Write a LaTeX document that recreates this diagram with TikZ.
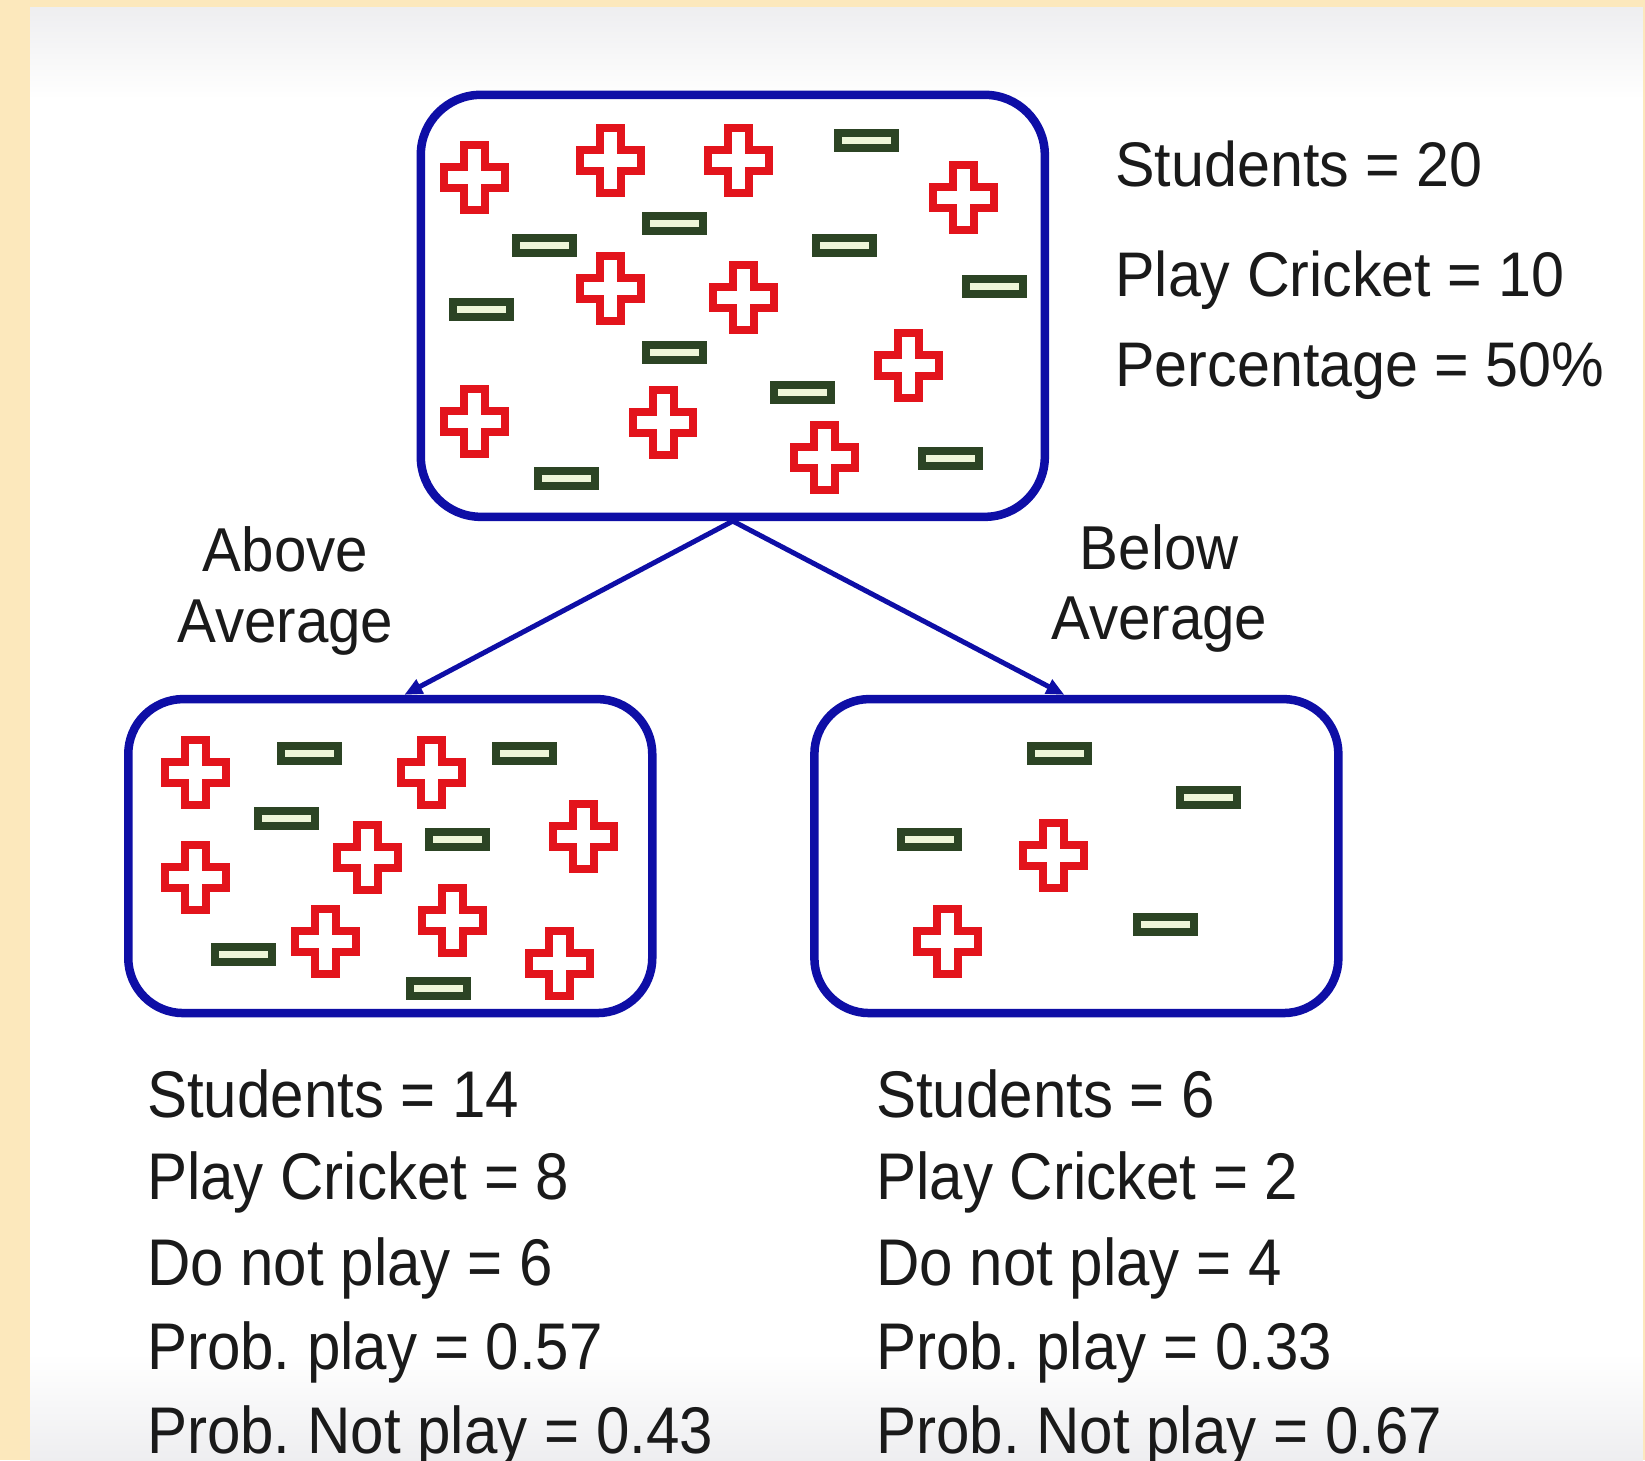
\documentclass[tikz,border=0pt]{standalone}
\usepackage{fontspec}
\setmainfont{Liberation Sans}
\newfontfamily\txtfont[FakeStretch=0.94]{Liberation Sans}
\newfontfamily\botfont[FakeStretch=0.91]{Liberation Sans}
\usetikzlibrary{arrows.meta}
\definecolor{beige}{HTML}{FCE8BC}
\definecolor{boxblue}{HTML}{0E0EA6}
\definecolor{plusred}{HTML}{E3141C}
\definecolor{minusgreen}{HTML}{2C4424}
\definecolor{minusfill}{HTML}{EEF6D8}
\definecolor{txt}{HTML}{1A1A1A}
\definecolor{bggray}{HTML}{EEEEF0}
\frenchspacing
\tikzset{
  plussym/.pic={\draw[draw=plusred,fill=white,line width=8pt,line join=miter]
    (-10,-31) -- (10,-31) -- (10,-10) -- (29,-10) -- (29,10) -- (10,10) -- (10,31)
    -- (-10,31) -- (-10,10) -- (-29,10) -- (-29,-10) -- (-10,-10) -- cycle;},
  minussym/.pic={\draw[draw=minusgreen,fill=minusfill,line width=8pt] (-27.5,-7.3) rectangle (27.5,7.3);},
  setbox/.style={draw=boxblue, line width=8.5pt, rounded corners=60pt, fill=white, inner sep=0pt},
  toptxt/.style={font=\fontsize{63}{75}\txtfont, text=txt, inner sep=0pt, anchor=base west},
  lbltxt/.style={font=\fontsize{62}{74}\txtfont, text=txt, inner sep=0pt, anchor=base},
  bottxt/.style={font=\fontsize{66}{80}\botfont, text=txt, inner sep=0pt, anchor=base west},
  conn/.style={draw=boxblue, line width=5pt, -{Triangle[length=18pt,width=15pt]}}
}
\begin{document}
\begin{tikzpicture}[x=1.0491pt,y=-1.0491pt]
\useasboundingbox (0,0) rectangle (1568,1392);
\fill[beige] (0,0) rectangle (1568,1392);
\fill[white] (28.6,6.7) rectangle (1566,1392);
\shade[top color=bggray,bottom color=white] (28.6,6.7) rectangle (1566,95);
\shade[top color=white,bottom color=bggray] (28.6,1290) rectangle (1566,1392);

% boxes
\node[setbox, minimum width=624pt, minimum height=422pt] (top) at (698.5,291.5) {};
\node[setbox, minimum width=524pt, minimum height=314pt, rounded corners=55pt] (left) at (372,816) {};
\node[setbox, minimum width=524pt, minimum height=314pt, rounded corners=55pt] (right) at (1026,816) {};

% connectors
\draw[conn] (top.south) -- ([xshift=14pt]left.north);
\draw[conn] (top.south) -- ([xshift=-12pt]right.north);

% top box symbols
\foreach \p in {(452,169),(582,153),(704,153),(918,188),(582,275),(709,284),(866,348),(452,402),(632,403),(786,436)}
  \pic at \p {plussym};
\foreach \p in {(826,134),(519,234),(643,213),(805,234),(459,295),(948,273),(643,336),(765,374),(540,456),(906,437)}
  \pic at \p {minussym};

% left box symbols
\foreach \p in {(186,736),(411,736),(556,797),(186,836),(350,817),(431,877),(310,897),(533,918)}
  \pic at \p {plussym};
\foreach \p in {(295,718),(500,718),(273,780),(436,800),(232,910),(418,942)}
  \pic at \p {minussym};

% right box symbols
\foreach \p in {(1004,815),(903,897)}
  \pic at \p {plussym};
\foreach \p in {(1010,718),(1152,760),(886,800),(1111,881)}
  \pic at \p {minussym};

% top texts
\node[toptxt] (t1) at (1063,178) {Students = 20};
\node[toptxt] (t2) at (1063,283) {Play Cricket = 10};
\node[toptxt] (t3) at (1063,368) {Percentage = 50\%};

% branch labels
\node[lbltxt] (a1) at (272,545) {Above};
\node[lbltxt] (a2) at (272,612) {Average};
\node[lbltxt] (b1) at (1105,543) {Below};
\node[lbltxt] (b2) at (1105,610) {Average};

% bottom left texts
\node[bottxt] (l1) at (140,1065) {Students = 14};
\node[bottxt] (l2) at (140,1143) {Play Cricket = 8};
\node[bottxt] (l3) at (140,1225) {Do not play = 6};
\node[bottxt] (l4) at (140,1305) {Prob. play = 0.57};
\node[bottxt] (l5) at (140,1385) {Prob. Not play = 0.43};

% bottom right texts
\node[bottxt] (r1) at (835,1065) {Students = 6};
\node[bottxt] (r2) at (835,1143) {Play Cricket = 2};
\node[bottxt] (r3) at (835,1225) {Do not play = 4};
\node[bottxt] (r4) at (835,1305) {Prob. play = 0.33};
\node[bottxt] (r5) at (835,1385) {Prob. Not play = 0.67};
\end{tikzpicture}
\end{document}
